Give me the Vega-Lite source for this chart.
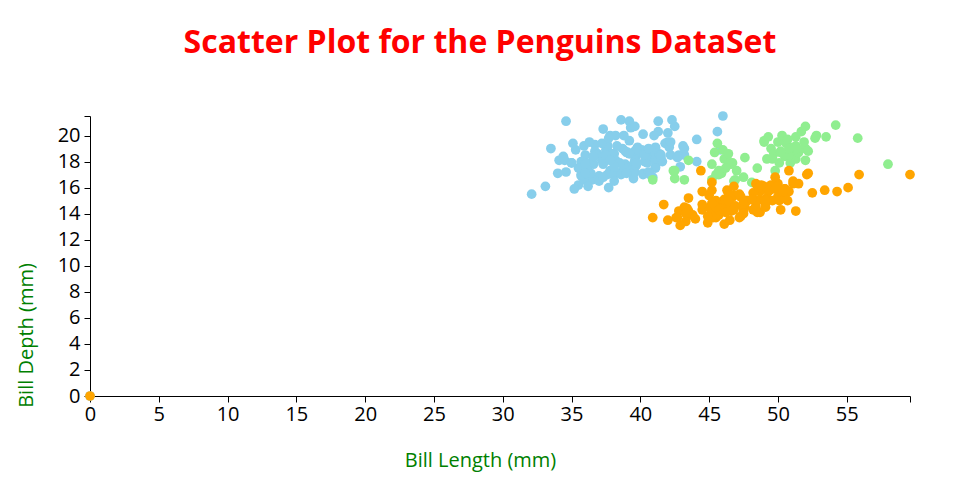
{
  "$schema": "https://vega.github.io/schema/vega-lite/v6.json",
  "width": 820,
  "height": 280,
  "autosize": {"type": "none"},
  "padding": {"left": 90, "top": 116, "right": 50, "bottom": 104},
  "background": "white",
  "config": {"view": {"stroke": null}, "font": "Open Sans"},
  "title": {
    "text": "Scatter Plot for the Penguins DataSet",
    "font": "Open Sans",
    "fontSize": 32,
    "fontWeight": "bold",
    "color": "red",
    "anchor": "middle",
    "frame": "group",
    "dx": -20,
    "baseline": "alphabetic",
    "offset": 21
  },
  "data": {
    "values": [
      {"species":"Adelie","bill_length":39.1,"bill_depth":18.7},
      {"species":"Adelie","bill_length":39.5,"bill_depth":17.4},
      {"species":"Adelie","bill_length":40.3,"bill_depth":18.0},
      {"species":"Adelie","bill_length":0,"bill_depth":0},
      {"species":"Adelie","bill_length":36.7,"bill_depth":19.3},
      {"species":"Adelie","bill_length":39.3,"bill_depth":20.6},
      {"species":"Adelie","bill_length":38.9,"bill_depth":17.8},
      {"species":"Adelie","bill_length":39.2,"bill_depth":19.6},
      {"species":"Adelie","bill_length":34.1,"bill_depth":18.1},
      {"species":"Adelie","bill_length":42.0,"bill_depth":20.2},
      {"species":"Adelie","bill_length":37.8,"bill_depth":17.1},
      {"species":"Adelie","bill_length":37.8,"bill_depth":17.3},
      {"species":"Adelie","bill_length":41.1,"bill_depth":17.6},
      {"species":"Adelie","bill_length":38.6,"bill_depth":21.2},
      {"species":"Adelie","bill_length":34.6,"bill_depth":21.1},
      {"species":"Adelie","bill_length":36.6,"bill_depth":17.8},
      {"species":"Adelie","bill_length":38.7,"bill_depth":19.0},
      {"species":"Adelie","bill_length":42.5,"bill_depth":20.7},
      {"species":"Adelie","bill_length":34.4,"bill_depth":18.4},
      {"species":"Adelie","bill_length":46.0,"bill_depth":21.5},
      {"species":"Adelie","bill_length":37.8,"bill_depth":18.3},
      {"species":"Adelie","bill_length":37.7,"bill_depth":18.7},
      {"species":"Adelie","bill_length":35.9,"bill_depth":19.2},
      {"species":"Adelie","bill_length":38.2,"bill_depth":18.1},
      {"species":"Adelie","bill_length":38.8,"bill_depth":17.2},
      {"species":"Adelie","bill_length":35.3,"bill_depth":18.9},
      {"species":"Adelie","bill_length":40.6,"bill_depth":18.6},
      {"species":"Adelie","bill_length":40.5,"bill_depth":17.9},
      {"species":"Adelie","bill_length":37.9,"bill_depth":18.6},
      {"species":"Adelie","bill_length":40.5,"bill_depth":18.9},
      {"species":"Adelie","bill_length":39.5,"bill_depth":16.7},
      {"species":"Adelie","bill_length":37.2,"bill_depth":18.1},
      {"species":"Adelie","bill_length":39.5,"bill_depth":17.8},
      {"species":"Adelie","bill_length":40.9,"bill_depth":18.9},
      {"species":"Adelie","bill_length":36.4,"bill_depth":17.0},
      {"species":"Adelie","bill_length":39.2,"bill_depth":21.1},
      {"species":"Adelie","bill_length":38.8,"bill_depth":20.0},
      {"species":"Adelie","bill_length":42.2,"bill_depth":18.5},
      {"species":"Adelie","bill_length":37.6,"bill_depth":19.3},
      {"species":"Adelie","bill_length":39.8,"bill_depth":19.1},
      {"species":"Adelie","bill_length":36.5,"bill_depth":18.0},
      {"species":"Adelie","bill_length":40.8,"bill_depth":18.4},
      {"species":"Adelie","bill_length":36.0,"bill_depth":18.5},
      {"species":"Adelie","bill_length":44.1,"bill_depth":19.7},
      {"species":"Adelie","bill_length":37.0,"bill_depth":16.9},
      {"species":"Adelie","bill_length":39.6,"bill_depth":18.8},
      {"species":"Adelie","bill_length":41.1,"bill_depth":19.0},
      {"species":"Adelie","bill_length":37.5,"bill_depth":18.9},
      {"species":"Adelie","bill_length":36.0,"bill_depth":17.9},
      {"species":"Adelie","bill_length":42.3,"bill_depth":21.2},
      {"species":"Adelie","bill_length":39.6,"bill_depth":17.7},
      {"species":"Adelie","bill_length":40.1,"bill_depth":18.9},
      {"species":"Adelie","bill_length":35.0,"bill_depth":17.9},
      {"species":"Adelie","bill_length":42.0,"bill_depth":19.5},
      {"species":"Adelie","bill_length":34.5,"bill_depth":18.1},
      {"species":"Adelie","bill_length":41.4,"bill_depth":18.6},
      {"species":"Adelie","bill_length":39.0,"bill_depth":17.5},
      {"species":"Adelie","bill_length":40.6,"bill_depth":18.8},
      {"species":"Adelie","bill_length":36.5,"bill_depth":16.6},
      {"species":"Adelie","bill_length":37.6,"bill_depth":19.1},
      {"species":"Adelie","bill_length":35.7,"bill_depth":16.9},
      {"species":"Adelie","bill_length":41.3,"bill_depth":21.1},
      {"species":"Adelie","bill_length":37.6,"bill_depth":17.0},
      {"species":"Adelie","bill_length":41.1,"bill_depth":18.2},
      {"species":"Adelie","bill_length":36.4,"bill_depth":17.1},
      {"species":"Adelie","bill_length":41.6,"bill_depth":18.0},
      {"species":"Adelie","bill_length":35.5,"bill_depth":16.2},
      {"species":"Adelie","bill_length":41.1,"bill_depth":19.1},
      {"species":"Adelie","bill_length":35.9,"bill_depth":16.6},
      {"species":"Adelie","bill_length":41.8,"bill_depth":19.4},
      {"species":"Adelie","bill_length":33.5,"bill_depth":19.0},
      {"species":"Adelie","bill_length":39.7,"bill_depth":18.4},
      {"species":"Adelie","bill_length":39.6,"bill_depth":17.2},
      {"species":"Adelie","bill_length":45.8,"bill_depth":18.9},
      {"species":"Adelie","bill_length":35.5,"bill_depth":17.5},
      {"species":"Adelie","bill_length":42.8,"bill_depth":18.5},
      {"species":"Adelie","bill_length":40.9,"bill_depth":16.8},
      {"species":"Adelie","bill_length":37.2,"bill_depth":19.4},
      {"species":"Adelie","bill_length":36.2,"bill_depth":16.1},
      {"species":"Adelie","bill_length":42.1,"bill_depth":19.1},
      {"species":"Adelie","bill_length":34.6,"bill_depth":17.2},
      {"species":"Adelie","bill_length":42.9,"bill_depth":17.6},
      {"species":"Adelie","bill_length":36.7,"bill_depth":18.8},
      {"species":"Adelie","bill_length":35.1,"bill_depth":19.4},
      {"species":"Adelie","bill_length":37.3,"bill_depth":17.8},
      {"species":"Adelie","bill_length":41.3,"bill_depth":20.3},
      {"species":"Adelie","bill_length":36.3,"bill_depth":19.5},
      {"species":"Adelie","bill_length":36.9,"bill_depth":18.6},
      {"species":"Adelie","bill_length":38.3,"bill_depth":19.2},
      {"species":"Adelie","bill_length":38.9,"bill_depth":18.8},
      {"species":"Adelie","bill_length":35.7,"bill_depth":18.0},
      {"species":"Adelie","bill_length":41.1,"bill_depth":18.1},
      {"species":"Adelie","bill_length":34.0,"bill_depth":17.1},
      {"species":"Adelie","bill_length":39.6,"bill_depth":18.1},
      {"species":"Adelie","bill_length":36.2,"bill_depth":17.3},
      {"species":"Adelie","bill_length":40.8,"bill_depth":18.9},
      {"species":"Adelie","bill_length":38.1,"bill_depth":18.6},
      {"species":"Adelie","bill_length":40.3,"bill_depth":18.5},
      {"species":"Adelie","bill_length":33.1,"bill_depth":16.1},
      {"species":"Adelie","bill_length":43.2,"bill_depth":18.5},
      {"species":"Adelie","bill_length":35.0,"bill_depth":17.9},
      {"species":"Adelie","bill_length":41.0,"bill_depth":20.0},
      {"species":"Adelie","bill_length":37.7,"bill_depth":16.0},
      {"species":"Adelie","bill_length":37.8,"bill_depth":20.0},
      {"species":"Adelie","bill_length":37.9,"bill_depth":18.6},
      {"species":"Adelie","bill_length":39.7,"bill_depth":18.9},
      {"species":"Adelie","bill_length":38.6,"bill_depth":17.2},
      {"species":"Adelie","bill_length":38.2,"bill_depth":20.0},
      {"species":"Adelie","bill_length":38.1,"bill_depth":17.0},
      {"species":"Adelie","bill_length":43.2,"bill_depth":19.0},
      {"species":"Adelie","bill_length":38.1,"bill_depth":16.5},
      {"species":"Adelie","bill_length":45.6,"bill_depth":20.3},
      {"species":"Adelie","bill_length":39.7,"bill_depth":17.7},
      {"species":"Adelie","bill_length":42.2,"bill_depth":19.5},
      {"species":"Adelie","bill_length":39.6,"bill_depth":20.7},
      {"species":"Adelie","bill_length":42.7,"bill_depth":18.3},
      {"species":"Adelie","bill_length":38.6,"bill_depth":17.0},
      {"species":"Adelie","bill_length":37.3,"bill_depth":20.5},
      {"species":"Adelie","bill_length":35.7,"bill_depth":17.0},
      {"species":"Adelie","bill_length":41.1,"bill_depth":18.6},
      {"species":"Adelie","bill_length":36.2,"bill_depth":17.2},
      {"species":"Adelie","bill_length":37.7,"bill_depth":19.8},
      {"species":"Adelie","bill_length":40.2,"bill_depth":17.0},
      {"species":"Adelie","bill_length":41.4,"bill_depth":18.5},
      {"species":"Adelie","bill_length":35.2,"bill_depth":15.9},
      {"species":"Adelie","bill_length":40.6,"bill_depth":19.0},
      {"species":"Adelie","bill_length":38.8,"bill_depth":17.6},
      {"species":"Adelie","bill_length":41.5,"bill_depth":18.3},
      {"species":"Adelie","bill_length":39.0,"bill_depth":17.1},
      {"species":"Adelie","bill_length":44.1,"bill_depth":18.0},
      {"species":"Adelie","bill_length":38.5,"bill_depth":17.9},
      {"species":"Adelie","bill_length":43.1,"bill_depth":19.2},
      {"species":"Adelie","bill_length":36.8,"bill_depth":18.5},
      {"species":"Adelie","bill_length":37.5,"bill_depth":18.5},
      {"species":"Adelie","bill_length":38.1,"bill_depth":17.6},
      {"species":"Adelie","bill_length":41.1,"bill_depth":17.5},
      {"species":"Adelie","bill_length":35.6,"bill_depth":17.5},
      {"species":"Adelie","bill_length":40.2,"bill_depth":20.1},
      {"species":"Adelie","bill_length":37.0,"bill_depth":16.5},
      {"species":"Adelie","bill_length":39.7,"bill_depth":17.9},
      {"species":"Adelie","bill_length":40.2,"bill_depth":17.1},
      {"species":"Adelie","bill_length":40.6,"bill_depth":17.2},
      {"species":"Adelie","bill_length":32.1,"bill_depth":15.5},
      {"species":"Adelie","bill_length":40.7,"bill_depth":17.0},
      {"species":"Adelie","bill_length":37.3,"bill_depth":16.8},
      {"species":"Adelie","bill_length":39.0,"bill_depth":18.7},
      {"species":"Adelie","bill_length":39.2,"bill_depth":18.6},
      {"species":"Adelie","bill_length":36.6,"bill_depth":18.4},
      {"species":"Adelie","bill_length":36.0,"bill_depth":17.8},
      {"species":"Adelie","bill_length":37.8,"bill_depth":18.1},
      {"species":"Adelie","bill_length":36.0,"bill_depth":17.1},
      {"species":"Adelie","bill_length":41.5,"bill_depth":18.5},
      {"species":"Chinstrap","bill_length":46.5,"bill_depth":17.9},
      {"species":"Chinstrap","bill_length":50.0,"bill_depth":19.5},
      {"species":"Chinstrap","bill_length":51.3,"bill_depth":19.2},
      {"species":"Chinstrap","bill_length":45.4,"bill_depth":18.7},
      {"species":"Chinstrap","bill_length":52.7,"bill_depth":19.8},
      {"species":"Chinstrap","bill_length":45.2,"bill_depth":17.8},
      {"species":"Chinstrap","bill_length":46.1,"bill_depth":18.2},
      {"species":"Chinstrap","bill_length":51.3,"bill_depth":18.2},
      {"species":"Chinstrap","bill_length":46.0,"bill_depth":18.9},
      {"species":"Chinstrap","bill_length":51.3,"bill_depth":19.9},
      {"species":"Chinstrap","bill_length":46.6,"bill_depth":17.8},
      {"species":"Chinstrap","bill_length":51.7,"bill_depth":20.3},
      {"species":"Chinstrap","bill_length":47.0,"bill_depth":17.3},
      {"species":"Chinstrap","bill_length":52.0,"bill_depth":18.1},
      {"species":"Chinstrap","bill_length":45.9,"bill_depth":17.1},
      {"species":"Chinstrap","bill_length":50.5,"bill_depth":19.6},
      {"species":"Chinstrap","bill_length":50.3,"bill_depth":20.0},
      {"species":"Chinstrap","bill_length":58.0,"bill_depth":17.8},
      {"species":"Chinstrap","bill_length":46.4,"bill_depth":18.6},
      {"species":"Chinstrap","bill_length":49.2,"bill_depth":18.2},
      {"species":"Chinstrap","bill_length":42.4,"bill_depth":17.3},
      {"species":"Chinstrap","bill_length":48.5,"bill_depth":17.5},
      {"species":"Chinstrap","bill_length":43.2,"bill_depth":16.6},
      {"species":"Chinstrap","bill_length":50.6,"bill_depth":19.4},
      {"species":"Chinstrap","bill_length":46.7,"bill_depth":17.9},
      {"species":"Chinstrap","bill_length":52.0,"bill_depth":19.0},
      {"species":"Chinstrap","bill_length":50.5,"bill_depth":18.4},
      {"species":"Chinstrap","bill_length":49.5,"bill_depth":19.0},
      {"species":"Chinstrap","bill_length":46.4,"bill_depth":17.8},
      {"species":"Chinstrap","bill_length":52.8,"bill_depth":20.0},
      {"species":"Chinstrap","bill_length":40.9,"bill_depth":16.6},
      {"species":"Chinstrap","bill_length":54.2,"bill_depth":20.8},
      {"species":"Chinstrap","bill_length":42.5,"bill_depth":16.7},
      {"species":"Chinstrap","bill_length":51.0,"bill_depth":18.8},
      {"species":"Chinstrap","bill_length":49.7,"bill_depth":18.6},
      {"species":"Chinstrap","bill_length":47.5,"bill_depth":16.8},
      {"species":"Chinstrap","bill_length":47.6,"bill_depth":18.3},
      {"species":"Chinstrap","bill_length":52.0,"bill_depth":20.7},
      {"species":"Chinstrap","bill_length":46.9,"bill_depth":16.6},
      {"species":"Chinstrap","bill_length":53.5,"bill_depth":19.9},
      {"species":"Chinstrap","bill_length":49.0,"bill_depth":19.5},
      {"species":"Chinstrap","bill_length":46.2,"bill_depth":17.5},
      {"species":"Chinstrap","bill_length":50.9,"bill_depth":19.1},
      {"species":"Chinstrap","bill_length":45.5,"bill_depth":17.0},
      {"species":"Chinstrap","bill_length":50.9,"bill_depth":17.9},
      {"species":"Chinstrap","bill_length":50.8,"bill_depth":18.5},
      {"species":"Chinstrap","bill_length":50.1,"bill_depth":17.9},
      {"species":"Chinstrap","bill_length":49.0,"bill_depth":19.6},
      {"species":"Chinstrap","bill_length":51.5,"bill_depth":18.7},
      {"species":"Chinstrap","bill_length":49.8,"bill_depth":17.3},
      {"species":"Chinstrap","bill_length":48.1,"bill_depth":16.4},
      {"species":"Chinstrap","bill_length":51.4,"bill_depth":19.0},
      {"species":"Chinstrap","bill_length":45.7,"bill_depth":17.3},
      {"species":"Chinstrap","bill_length":50.7,"bill_depth":19.7},
      {"species":"Chinstrap","bill_length":42.5,"bill_depth":17.3},
      {"species":"Chinstrap","bill_length":52.2,"bill_depth":18.8},
      {"species":"Chinstrap","bill_length":45.2,"bill_depth":16.6},
      {"species":"Chinstrap","bill_length":49.3,"bill_depth":19.9},
      {"species":"Chinstrap","bill_length":50.2,"bill_depth":18.8},
      {"species":"Chinstrap","bill_length":45.6,"bill_depth":19.4},
      {"species":"Chinstrap","bill_length":51.9,"bill_depth":19.5},
      {"species":"Chinstrap","bill_length":46.8,"bill_depth":16.5},
      {"species":"Chinstrap","bill_length":45.7,"bill_depth":17.0},
      {"species":"Chinstrap","bill_length":55.8,"bill_depth":19.8},
      {"species":"Chinstrap","bill_length":43.5,"bill_depth":18.1},
      {"species":"Chinstrap","bill_length":49.6,"bill_depth":18.2},
      {"species":"Chinstrap","bill_length":50.8,"bill_depth":19.0},
      {"species":"Chinstrap","bill_length":50.2,"bill_depth":18.7},
      {"species":"Gentoo","bill_length":46.1,"bill_depth":13.2},
      {"species":"Gentoo","bill_length":50.0,"bill_depth":16.3},
      {"species":"Gentoo","bill_length":48.7,"bill_depth":14.1},
      {"species":"Gentoo","bill_length":50.0,"bill_depth":15.2},
      {"species":"Gentoo","bill_length":47.6,"bill_depth":14.5},
      {"species":"Gentoo","bill_length":46.5,"bill_depth":13.5},
      {"species":"Gentoo","bill_length":45.4,"bill_depth":14.6},
      {"species":"Gentoo","bill_length":46.7,"bill_depth":15.3},
      {"species":"Gentoo","bill_length":43.3,"bill_depth":13.4},
      {"species":"Gentoo","bill_length":46.8,"bill_depth":15.4},
      {"species":"Gentoo","bill_length":40.9,"bill_depth":13.7},
      {"species":"Gentoo","bill_length":49.0,"bill_depth":16.1},
      {"species":"Gentoo","bill_length":45.5,"bill_depth":13.7},
      {"species":"Gentoo","bill_length":48.4,"bill_depth":14.6},
      {"species":"Gentoo","bill_length":45.8,"bill_depth":14.6},
      {"species":"Gentoo","bill_length":49.3,"bill_depth":15.7},
      {"species":"Gentoo","bill_length":42.0,"bill_depth":13.5},
      {"species":"Gentoo","bill_length":49.2,"bill_depth":15.2},
      {"species":"Gentoo","bill_length":46.2,"bill_depth":14.5},
      {"species":"Gentoo","bill_length":48.7,"bill_depth":15.1},
      {"species":"Gentoo","bill_length":50.2,"bill_depth":14.3},
      {"species":"Gentoo","bill_length":45.1,"bill_depth":14.5},
      {"species":"Gentoo","bill_length":46.5,"bill_depth":14.5},
      {"species":"Gentoo","bill_length":46.3,"bill_depth":15.8},
      {"species":"Gentoo","bill_length":42.9,"bill_depth":13.1},
      {"species":"Gentoo","bill_length":46.1,"bill_depth":15.1},
      {"species":"Gentoo","bill_length":44.5,"bill_depth":14.3},
      {"species":"Gentoo","bill_length":47.8,"bill_depth":15.0},
      {"species":"Gentoo","bill_length":48.2,"bill_depth":14.3},
      {"species":"Gentoo","bill_length":50.0,"bill_depth":15.3},
      {"species":"Gentoo","bill_length":47.3,"bill_depth":15.3},
      {"species":"Gentoo","bill_length":42.8,"bill_depth":14.2},
      {"species":"Gentoo","bill_length":45.1,"bill_depth":14.5},
      {"species":"Gentoo","bill_length":59.6,"bill_depth":17.0},
      {"species":"Gentoo","bill_length":49.1,"bill_depth":14.8},
      {"species":"Gentoo","bill_length":48.4,"bill_depth":16.3},
      {"species":"Gentoo","bill_length":42.6,"bill_depth":13.7},
      {"species":"Gentoo","bill_length":44.4,"bill_depth":17.3},
      {"species":"Gentoo","bill_length":44.0,"bill_depth":13.6},
      {"species":"Gentoo","bill_length":48.7,"bill_depth":15.7},
      {"species":"Gentoo","bill_length":42.7,"bill_depth":13.7},
      {"species":"Gentoo","bill_length":49.6,"bill_depth":16.0},
      {"species":"Gentoo","bill_length":45.3,"bill_depth":13.7},
      {"species":"Gentoo","bill_length":49.6,"bill_depth":15.0},
      {"species":"Gentoo","bill_length":50.5,"bill_depth":15.9},
      {"species":"Gentoo","bill_length":43.6,"bill_depth":13.9},
      {"species":"Gentoo","bill_length":45.5,"bill_depth":13.9},
      {"species":"Gentoo","bill_length":50.5,"bill_depth":15.9},
      {"species":"Gentoo","bill_length":44.9,"bill_depth":13.3},
      {"species":"Gentoo","bill_length":45.2,"bill_depth":15.8},
      {"species":"Gentoo","bill_length":46.6,"bill_depth":14.2},
      {"species":"Gentoo","bill_length":48.5,"bill_depth":14.1},
      {"species":"Gentoo","bill_length":45.1,"bill_depth":14.4},
      {"species":"Gentoo","bill_length":50.1,"bill_depth":15.0},
      {"species":"Gentoo","bill_length":46.5,"bill_depth":14.4},
      {"species":"Gentoo","bill_length":45.0,"bill_depth":15.4},
      {"species":"Gentoo","bill_length":43.8,"bill_depth":13.9},
      {"species":"Gentoo","bill_length":45.5,"bill_depth":15.0},
      {"species":"Gentoo","bill_length":43.2,"bill_depth":14.5},
      {"species":"Gentoo","bill_length":50.4,"bill_depth":15.3},
      {"species":"Gentoo","bill_length":45.3,"bill_depth":13.8},
      {"species":"Gentoo","bill_length":46.2,"bill_depth":14.9},
      {"species":"Gentoo","bill_length":45.7,"bill_depth":13.9},
      {"species":"Gentoo","bill_length":54.3,"bill_depth":15.7},
      {"species":"Gentoo","bill_length":45.8,"bill_depth":14.2},
      {"species":"Gentoo","bill_length":49.8,"bill_depth":16.8},
      {"species":"Gentoo","bill_length":46.2,"bill_depth":14.4},
      {"species":"Gentoo","bill_length":49.5,"bill_depth":16.2},
      {"species":"Gentoo","bill_length":43.5,"bill_depth":14.2},
      {"species":"Gentoo","bill_length":50.7,"bill_depth":15.0},
      {"species":"Gentoo","bill_length":47.7,"bill_depth":15.0},
      {"species":"Gentoo","bill_length":46.4,"bill_depth":15.6},
      {"species":"Gentoo","bill_length":48.2,"bill_depth":15.6},
      {"species":"Gentoo","bill_length":46.5,"bill_depth":14.8},
      {"species":"Gentoo","bill_length":46.4,"bill_depth":15.0},
      {"species":"Gentoo","bill_length":48.6,"bill_depth":16.0},
      {"species":"Gentoo","bill_length":47.5,"bill_depth":14.2},
      {"species":"Gentoo","bill_length":51.1,"bill_depth":16.3},
      {"species":"Gentoo","bill_length":45.2,"bill_depth":13.8},
      {"species":"Gentoo","bill_length":45.2,"bill_depth":16.4},
      {"species":"Gentoo","bill_length":49.1,"bill_depth":14.5},
      {"species":"Gentoo","bill_length":52.5,"bill_depth":15.6},
      {"species":"Gentoo","bill_length":47.4,"bill_depth":14.6},
      {"species":"Gentoo","bill_length":50.0,"bill_depth":15.9},
      {"species":"Gentoo","bill_length":44.9,"bill_depth":13.8},
      {"species":"Gentoo","bill_length":50.8,"bill_depth":17.3},
      {"species":"Gentoo","bill_length":43.4,"bill_depth":14.4},
      {"species":"Gentoo","bill_length":51.3,"bill_depth":14.2},
      {"species":"Gentoo","bill_length":47.5,"bill_depth":14.0},
      {"species":"Gentoo","bill_length":52.1,"bill_depth":17.0},
      {"species":"Gentoo","bill_length":47.5,"bill_depth":15.0},
      {"species":"Gentoo","bill_length":52.2,"bill_depth":17.1},
      {"species":"Gentoo","bill_length":45.5,"bill_depth":14.5},
      {"species":"Gentoo","bill_length":49.5,"bill_depth":16.1},
      {"species":"Gentoo","bill_length":44.5,"bill_depth":14.7},
      {"species":"Gentoo","bill_length":50.8,"bill_depth":15.7},
      {"species":"Gentoo","bill_length":49.4,"bill_depth":15.8},
      {"species":"Gentoo","bill_length":46.9,"bill_depth":14.6},
      {"species":"Gentoo","bill_length":48.4,"bill_depth":14.4},
      {"species":"Gentoo","bill_length":51.1,"bill_depth":16.5},
      {"species":"Gentoo","bill_length":48.5,"bill_depth":15.0},
      {"species":"Gentoo","bill_length":55.9,"bill_depth":17.0},
      {"species":"Gentoo","bill_length":47.2,"bill_depth":15.5},
      {"species":"Gentoo","bill_length":49.1,"bill_depth":15.0},
      {"species":"Gentoo","bill_length":47.3,"bill_depth":13.8},
      {"species":"Gentoo","bill_length":46.8,"bill_depth":16.1},
      {"species":"Gentoo","bill_length":41.7,"bill_depth":14.7},
      {"species":"Gentoo","bill_length":53.4,"bill_depth":15.8},
      {"species":"Gentoo","bill_length":43.3,"bill_depth":14.0},
      {"species":"Gentoo","bill_length":48.1,"bill_depth":15.1},
      {"species":"Gentoo","bill_length":50.5,"bill_depth":15.2},
      {"species":"Gentoo","bill_length":49.8,"bill_depth":15.9},
      {"species":"Gentoo","bill_length":43.5,"bill_depth":15.2},
      {"species":"Gentoo","bill_length":51.5,"bill_depth":16.3},
      {"species":"Gentoo","bill_length":46.2,"bill_depth":14.1},
      {"species":"Gentoo","bill_length":55.1,"bill_depth":16.0},
      {"species":"Gentoo","bill_length":44.5,"bill_depth":15.7},
      {"species":"Gentoo","bill_length":48.8,"bill_depth":16.2},
      {"species":"Gentoo","bill_length":47.2,"bill_depth":13.7},
      {"species":"Gentoo","bill_length":0,"bill_depth":0},
      {"species":"Gentoo","bill_length":46.8,"bill_depth":14.3},
      {"species":"Gentoo","bill_length":50.4,"bill_depth":15.7},
      {"species":"Gentoo","bill_length":45.2,"bill_depth":14.8},
      {"species":"Gentoo","bill_length":49.9,"bill_depth":16.1}
    ]
  },
  "mark": {"type": "circle", "size": 95, "opacity": 1},
  "encoding": {
    "x": {
      "field": "bill_length",
      "type": "quantitative",
      "scale": {"domain": [0, 59.6], "nice": false},
      "axis": {
        "title": "Bill Length (mm)",
        "values": [0, 5, 10, 15, 20, 25, 30, 35, 40, 45, 50, 55, 59.6],
        "labelExpr": "datum.value == 59.6 ? '' : datum.label",
        "grid": false,
        "domainColor": "black",
        "tickColor": "black",
        "tickSize": 6,
        "labelPadding": 2,
        "labelColor": "black",
        "labelFont": "Open Sans",
        "labelFontSize": 20,
        "labelFlush": false,
        "labelOverlap": false,
        "titleFont": "Open Sans",
        "titleFontSize": 20,
        "titleFontWeight": "normal",
        "titleColor": "green",
        "titleX": 390,
        "titleY": 70,
        "titleAlign": "center",
        "titleBaseline": "alphabetic"
      }
    },
    "y": {
      "field": "bill_depth",
      "type": "quantitative",
      "scale": {"domain": [0, 21.5], "nice": false},
      "axis": {
        "title": "Bill Depth (mm)",
        "values": [0, 2, 4, 6, 8, 10, 12, 14, 16, 18, 20, 21.5],
        "labelExpr": "datum.value == 21.5 ? '' : datum.label",
        "grid": false,
        "domainColor": "black",
        "tickColor": "black",
        "tickSize": 6,
        "labelPadding": 4,
        "labelColor": "black",
        "labelFont": "Open Sans",
        "labelFontSize": 20,
        "labelFlush": false,
        "labelOverlap": false,
        "titleFont": "Open Sans",
        "titleFontSize": 20,
        "titleFontWeight": "normal",
        "titleColor": "green",
        "titleX": -58,
        "titleY": 219,
        "titleAngle": 270,
        "titleAlign": "center",
        "titleBaseline": "alphabetic"
      }
    },
    "color": {
      "field": "species",
      "type": "nominal",
      "scale": {"domain": ["Adelie", "Chinstrap", "Gentoo"], "range": ["skyblue", "lightgreen", "orange"]},
      "legend": null
    }
  }
}
